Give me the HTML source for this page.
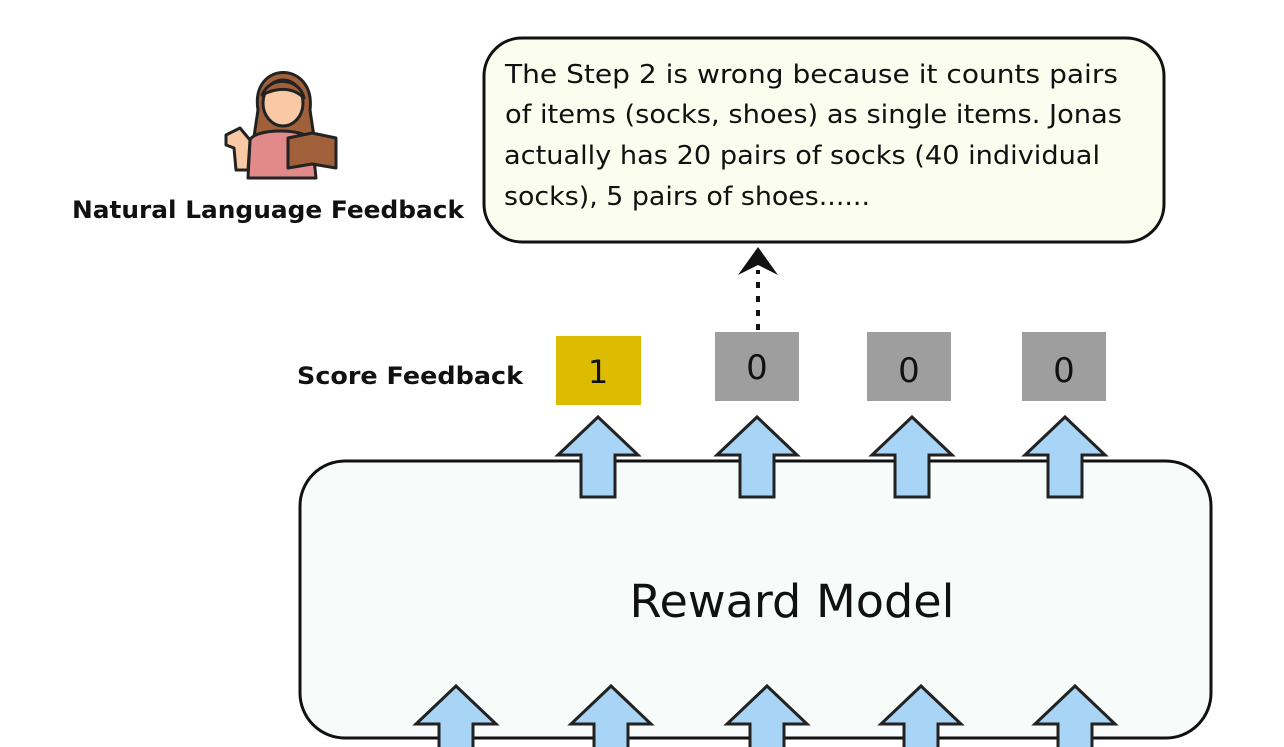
<!DOCTYPE html>
<html><head><meta charset="utf-8"><style>
body{margin:0;width:1284px;height:747px;background:#fff;overflow:hidden;position:relative;font-family:"DejaVu Sans","Liberation Sans",sans-serif}
</style></head><body>
<svg width="1284" height="747" style="position:absolute;left:0;top:0" font-family="'DejaVu Sans','Liberation Sans',sans-serif">
<defs>
<g id="up"><path d="M0,0 L40,38 L17,38 L17,80 L-17,80 L-17,38 L-40,38 Z" fill="#a8d4f5" stroke="#222" stroke-width="3" stroke-linejoin="miter"/></g>
</defs>
<rect x="300" y="461" width="911" height="277" rx="45" fill="#f7fcfb" stroke="#111" stroke-width="3"/>
<text x="792" y="617" font-size="45" text-anchor="middle" fill="#111" textLength="325" lengthAdjust="spacingAndGlyphs">Reward Model</text>
<use href="#up" x="598" y="417"/>
<use href="#up" x="757" y="417"/>
<use href="#up" x="912" y="417"/>
<use href="#up" x="1065" y="417"/>
<use href="#up" x="456" y="686"/>
<use href="#up" x="611" y="686"/>
<use href="#up" x="767" y="686"/>
<use href="#up" x="921" y="686"/>
<use href="#up" x="1075" y="686"/>
<rect x="556" y="336" width="85" height="69" fill="#ddbb00"/>
<text x="598" y="383" font-size="32" text-anchor="middle" fill="#111">1</text>
<rect x="715" y="332" width="84" height="69" fill="#9e9e9e"/>
<text x="757" y="379" font-size="34" text-anchor="middle" fill="#111">0</text>
<rect x="867" y="332" width="84" height="69" fill="#9e9e9e"/>
<text x="909" y="382" font-size="34" text-anchor="middle" fill="#111">0</text>
<rect x="1022" y="332" width="84" height="69" fill="#9e9e9e"/>
<text x="1064" y="382" font-size="34" text-anchor="middle" fill="#111">0</text>
<text x="410" y="384" font-size="24" font-weight="bold" text-anchor="middle" fill="#111" textLength="226" lengthAdjust="spacingAndGlyphs">Score Feedback</text>
<line x1="758" y1="330" x2="758" y2="270" stroke="#111" stroke-width="4" stroke-dasharray="6,8"/>
<path d="M758,247 L778,275 L758,265 L738,275 Z" fill="#111"/>
<rect x="484" y="38" width="680" height="204" rx="38" fill="#fbfdef" stroke="#111" stroke-width="3"/>
<g font-size="26" fill="#111" lengthAdjust="spacingAndGlyphs">
<text x="505" y="83" textLength="613" lengthAdjust="spacingAndGlyphs">The Step 2 is wrong because it counts pairs</text>
<text x="505" y="123" textLength="617" lengthAdjust="spacingAndGlyphs">of items (socks, shoes) as single items. Jonas</text>
<text x="504" y="164" textLength="596" lengthAdjust="spacingAndGlyphs">actually has 20 pairs of socks (40 individual</text>
<text x="504" y="205" textLength="366" lengthAdjust="spacingAndGlyphs">socks), 5 pairs of shoes......</text>
</g>
<text x="268" y="218" font-size="24" font-weight="bold" text-anchor="middle" fill="#111" textLength="392" lengthAdjust="spacingAndGlyphs">Natural Language Feedback</text>
<g stroke="#222" stroke-width="3" stroke-linejoin="round">
<path d="M258,110 C250,60 316,60 310,110 L316,150 L252,150 Z" fill="#a0603a"/>
<path d="M248,178 L250,140 C255,128 305,128 312,140 L316,178 Z" fill="#e28a8a"/>
<ellipse cx="283" cy="103" rx="20" ry="23" fill="#f8c9a4"/>
<path d="M262,95 C270,75 300,78 304,98 C292,86 275,88 262,95 Z" fill="#a0603a"/>
<path d="M226,135 L240,128 L250,140 L248,170 L236,170 L234,148 L226,145 Z" fill="#f8c9a4"/>
<path d="M288,138 L312,133 L336,138 L336,168 L312,164 L288,168 Z" fill="#a0603a"/>
</g>
</svg>
</body></html>
